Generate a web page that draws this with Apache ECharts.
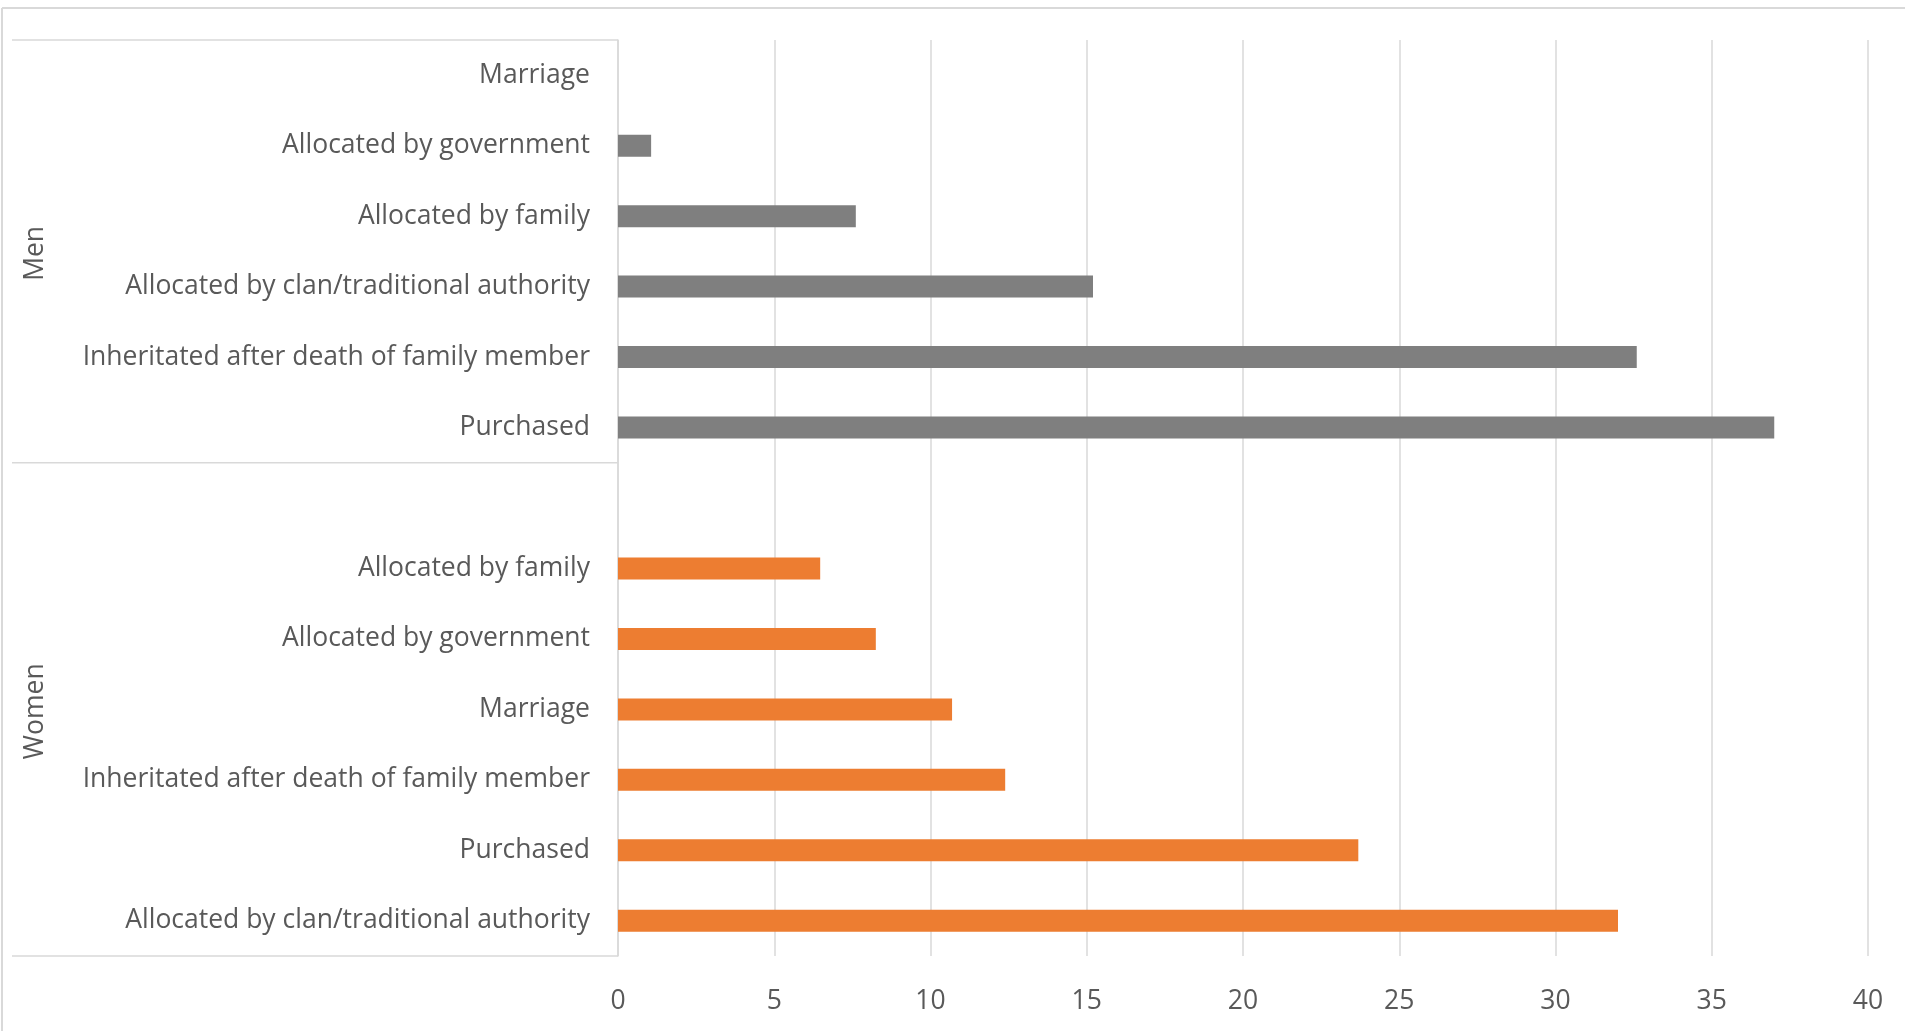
<!DOCTYPE html>
<html>
<head>
<meta charset="utf-8">
<script src="https://cdn.jsdelivr.net/npm/echarts@6/dist/echarts.min.js"></script>
<style>
html,body{margin:0;padding:0;background:#fff;}
#chart{width:1905px;height:1031px;}
</style>
</head>
<body>
<div id="chart"></div>
<script>
// ---- data ----
const groups = ['Men', 'Women'];
const menCategories = ['Marriage', 'Allocated by government', 'Allocated by family',
  'Allocated by clan/traditional authority', 'Inheritated after death of family member', 'Purchased'];
const menValues = [0, 1.06, 7.61, 15.2, 32.6, 37.0];
const womenCategories = ['', 'Allocated by family', 'Allocated by government', 'Marriage',
  'Inheritated after death of family member', 'Purchased', 'Allocated by clan/traditional authority'];
const womenValues = [null, 6.47, 8.25, 10.69, 12.39, 23.69, 32.0];
const xTickValues = [0, 5, 10, 15, 20, 25, 30, 35, 40];

(function () {
  const categories = menCategories.concat(womenCategories);
  const menSeriesData = menValues.concat(womenCategories.map(() => null));
  const womenSeriesData = menCategories.map(() => null).concat(womenValues);

  const FONT = 'Open Sans';
  const FS = 26.5;
  const TEXT = '#595959';
  const GRID = '#d9d9d9';

  const chart = echarts.init(document.getElementById('chart'), null, {renderer: 'canvas'});
  chart.setOption({
    animation: false,
    backgroundColor: '#fff',
    grid: {left: 618, right: 37, top: 40, bottom: 75, containLabel: false},
    xAxis: {
      type: 'value',
      min: xTickValues[0],
      max: xTickValues[xTickValues.length - 1],
      interval: xTickValues[1] - xTickValues[0],
      axisLine: {show: false},
      axisTick: {show: false},
      splitLine: {show: true, lineStyle: {color: GRID, width: 1.5}},
      axisLabel: {color: TEXT, fontFamily: FONT, fontSize: FS, margin: 32}
    },
    yAxis: {
      type: 'category',
      inverse: true,
      data: categories,
      axisLine: {show: true, lineStyle: {color: GRID, width: 1.5}},
      axisTick: {show: false},
      axisLabel: {color: TEXT, fontFamily: FONT, fontSize: FS, margin: 28, interval: 0, padding: [5, 0, 0, 0]}
    },
    series: [
      {
        name: groups[0], type: 'bar', data: menSeriesData,
        barWidth: 22, barGap: '-100%',
        itemStyle: {color: '#7f7f7f'}
      },
      {
        name: groups[1], type: 'bar', data: womenSeriesData,
        barWidth: 22, barGap: '-100%',
        itemStyle: {color: '#ed7d31'}
      }
    ]
  });

  // group frame and labels derived from the axis scale
  const yAt = i => chart.convertToPixel({yAxisIndex: 0}, i);
  const band = yAt(1) - yAt(0);
  const axisX = chart.convertToPixel({xAxisIndex: 0}, 0);
  const yTop = yAt(0) - band / 2;
  const yMid = (yAt(menCategories.length - 1) + yAt(menCategories.length)) / 2;
  const yBottom = yAt(categories.length - 1) + band / 2;
  const leftX = 12;
  const lineStyle = {stroke: GRID, lineWidth: 1.5};
  const hLine = y => ({type: 'line', shape: {x1: leftX, y1: y, x2: axisX, y2: y}, style: lineStyle, silent: true});
  const groupText = (t, y) => ({
    type: 'text', x: 35, y: y + 2, rotation: Math.PI / 2, silent: true,
    style: {text: t, fill: TEXT, fontFamily: FONT, fontSize: FS,
      align: 'center', verticalAlign: 'middle'}
  });
  chart.setOption({
    graphic: [
      {type: 'line', shape: {x1: 2, y1: 8, x2: 1905, y2: 8}, style: {stroke: GRID, lineWidth: 2}, silent: true},
      {type: 'line', shape: {x1: 2, y1: 8, x2: 2, y2: 1031}, style: {stroke: GRID, lineWidth: 2}, silent: true},
      hLine(yTop), hLine(yMid), hLine(yBottom),
      groupText(groups[0], (yTop + yMid) / 2),
      groupText(groups[1], (yMid + yBottom) / 2)
    ]
  });
})();
</script>
</body>
</html>
